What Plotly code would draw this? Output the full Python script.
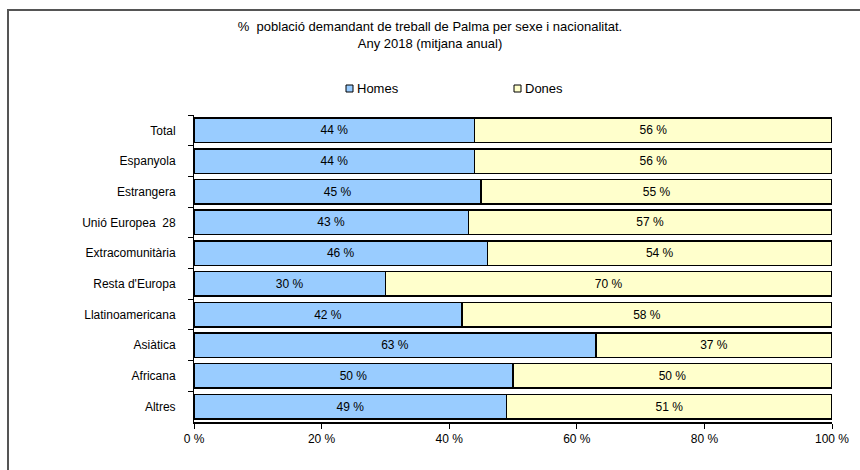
import plotly.graph_objects as go

categories = ["Total", "Espanyola", "Estrangera", "Unió Europea  28", "Extracomunitària",
              "Resta d'Europa", "Llatinoamericana", "Asiàtica", "Africana", "Altres"]
homes = [44, 44, 45, 43, 46, 30, 42, 63, 50, 49]
dones = [56, 56, 55, 57, 54, 70, 58, 37, 50, 51]
x_ticks = [0, 20, 40, 60, 80, 100]
series = [("Homes", homes, "#99CCFF"), ("Dones", dones, "#FFFFCC")]

FONT = "Liberation Sans, Arial, sans-serif"
W, H = 860, 470
ML, MR, MT, MB = 194, 28, 115, 48
PW, PH = W - ML - MR, H - MT - MB


def px_x(x):
    return (x - ML) / PW


def px_y(y):
    return 1 - (y - MT) / PH


fig = go.Figure()
for name, vals, color in series:
    fig.add_trace(go.Bar(
        name=name, y=categories, x=vals, orientation="h",
        marker=dict(color=color, line=dict(color="#000000", width=1.5)),
        text=[f"{v} %" for v in vals], textposition="inside",
        insidetextanchor="middle", textangle=0,
        textfont=dict(family=FONT, size=12, color="#000000"),
        width=0.8, showlegend=False,
    ))

# outer chart frame (only its top and left edges fall inside the page)
fig.add_shape(type="rect", xref="paper", yref="paper",
              x0=px_x(8), x1=px_x(900), y0=px_y(520), y1=px_y(10),
              line=dict(color="#555555", width=2), fillcolor="rgba(0,0,0,0)",
              layer="below")

# legend: small square swatch followed by the series name
for (name, _, color), left in zip(series, [346, 514]):
    fig.add_shape(type="rect", xref="paper", yref="paper",
                  x0=px_x(left), x1=px_x(left + 7), y0=px_y(92), y1=px_y(85),
                  line=dict(color="#000000", width=1), fillcolor=color)
    fig.add_annotation(xref="paper", yref="paper", x=px_x(left + 9), y=px_y(88.5),
                       xanchor="left", yanchor="middle", showarrow=False,
                       text=name, font=dict(family=FONT, size=13, color="#000000"))

fig.update_layout(
    width=W, height=H,
    margin=dict(l=ML, r=MR, t=MT, b=MB),
    paper_bgcolor="#FFFFFF", plot_bgcolor="#FFFFFF",
    barmode="stack", bargap=0.2,
    font=dict(family=FONT, size=12, color="#000000"),
    title=dict(text="%  població demandant de treball de Palma per sexe i nacionalitat.<br>Any 2018 (mitjana anual)",
               x=0.5, xanchor="center", y=1 - 31 / H, yanchor="top",
               font=dict(family=FONT, size=13, color="#000000")),
    showlegend=False,
    xaxis=dict(range=[0, 100], tickvals=x_ticks, ticktext=[f"{v} %" for v in x_ticks],
               showgrid=False, zeroline=False, showline=True, linecolor="#000000", linewidth=2,
               ticks="outside", ticklen=5, tickcolor="#000000",
               tickfont=dict(family=FONT, size=12)),
    yaxis=dict(autorange="reversed", showgrid=False, showline=True, linecolor="#000000", linewidth=1,
               ticks="outside", ticklen=5, tickcolor="#000000", tickson="boundaries",
               ticklabelstandoff=15,
               tickfont=dict(family=FONT, size=12)),
)

fig.write_html("out.html")
